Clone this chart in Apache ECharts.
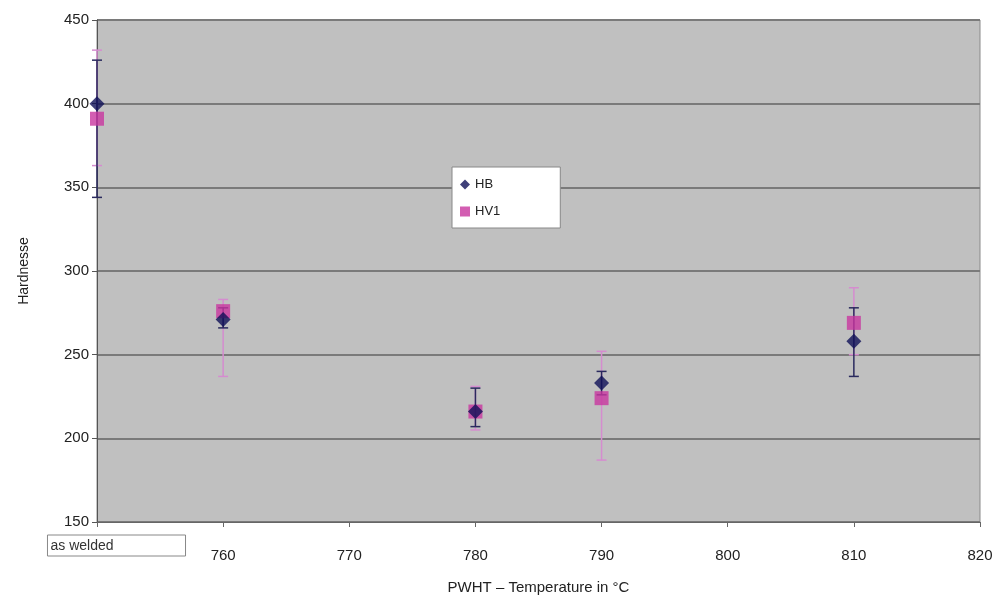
<!DOCTYPE html>
<html>
<head>
<meta charset="utf-8">
<script src="https://cdn.jsdelivr.net/npm/echarts@6/dist/echarts.min.js"></script>
<style>
  html, body { margin: 0; padding: 0; background: #fff; }
  #main { width: 1001px; height: 600px; }
</style>
</head>
<body>
<div id="main"></div>
<script>
var temps = [750, 760, 780, 790, 810];

// HB (Brinell)
var hbValues = [400, 271, 216, 233, 258];
var hbLow = [344, 266, 207, 226, 237];
var hbHigh = [426, 278, 230, 240, 278];

// HV1 (Vickers)
var hvValues = [391, 276, 216, 224, 269];
var hvLow = [363, 237, 205, 187, 250];
var hvHigh = [432, 283, 231, 252, 290];

var yTicks = [150, 200, 250, 300, 350, 400, 450];

var myChart = echarts.init(document.getElementById('main'));

function pairs(xs, ys) {
    return xs.map(function (x, i) { return [x, ys[i]]; });
}
function errData(xs, lo, hi) {
    return xs.map(function (x, i) { return [x, lo[i], hi[i]]; });
}
function errorBars(color, width) {
    return function (params, api) {
        var x = api.value(0);
        var lo = api.coord([x, api.value(1)]);
        var hi = api.coord([x, api.value(2)]);
        var cap = 5;
        var st = { stroke: color, lineWidth: width };
        return {
            type: 'group',
            children: [
                { type: 'line', shape: { x1: hi[0], y1: hi[1], x2: lo[0], y2: lo[1] }, style: st },
                { type: 'line', shape: { x1: hi[0] - cap, y1: hi[1], x2: hi[0] + cap, y2: hi[1] }, style: st },
                { type: 'line', shape: { x1: lo[0] - cap, y1: lo[1], x2: lo[0] + cap, y2: lo[1] }, style: st }
            ]
        };
    };
}

var fontFam = 'Liberation Sans, Arial, sans-serif';

var option = {
    animation: false,
    textStyle: { fontFamily: fontFam },
    grid: {
        left: 97, right: 21, top: 20, bottom: 75,
        show: true,
        backgroundColor: '#c0c0c0',
        borderColor: '#8a8a8a',
        borderWidth: 1
    },
    legend: {
        orient: 'vertical',
        left: 452, top: 167,
        backgroundColor: '#ffffff',
        borderColor: '#888888',
        borderWidth: 1,
        padding: [11, 60, 10, 8],
        itemGap: 14,
        itemWidth: 10, itemHeight: 10,
        textStyle: { fontSize: 13, color: '#222', fontFamily: fontFam },
        data: [
            { name: 'HB', icon: 'diamond' },
            { name: 'HV1', icon: 'rect' }
        ]
    },
    xAxis: {
        type: 'value',
        min: 750, max: 820, interval: 10,
        name: 'PWHT \u2013 Temperature in \u00b0C',
        nameLocation: 'middle',
        nameGap: 58,
        nameTextStyle: { fontSize: 15, color: '#222', fontFamily: fontFam },
        axisLine: { show: true, onZero: false, lineStyle: { color: '#666' } },
        axisTick: { show: true, length: 5, lineStyle: { color: '#666' } },
        splitLine: { show: false },
        axisLabel: {
            fontSize: 15, color: '#222', margin: 13,
            formatter: function (v) {
                return v === 750 ? '{sp| }{aw|as welded}' : '{n|' + v + '}';
            },
            rich: {
                sp: { width: 39 },
                n: { fontSize: 15, lineHeight: 42, color: '#222' },
                aw: {
                    padding: [4, 72, 3, 3],
                    borderColor: '#888', borderWidth: 1,
                    fontSize: 14, color: '#333'
                }
            }
        }
    },
    yAxis: {
        type: 'value',
        min: 150, max: 450, interval: 50,
        name: 'Hardnesse',
        nameLocation: 'middle',
        nameGap: 66,
        nameTextStyle: { fontSize: 14, color: '#222', fontFamily: fontFam },
        axisLine: { show: true, lineStyle: { color: '#555' } },
        axisTick: { show: true, length: 5, lineStyle: { color: '#555' } },
        axisLabel: {
            fontSize: 15, color: '#222', margin: 8,
            formatter: function (v) { return yTicks.indexOf(v) >= 0 ? String(v) : ''; }
        },
        splitLine: { show: true, lineStyle: { color: '#7a7a7a', width: 2 } }
    },
    series: [
        {
            name: 'HV1 err',
            type: 'custom',
            renderItem: errorBars('#d58ccf', 1.5),
            data: errData(temps, hvLow, hvHigh),
            z: 2
        },
        {
            name: 'HB err',
            type: 'custom',
            renderItem: errorBars('#2a2a5e', 1.5),
            data: errData(temps, hbLow, hbHigh),
            z: 3
        },
        {
            name: 'HV1',
            type: 'scatter',
            symbol: 'rect',
            symbolSize: 14,
            itemStyle: { color: '#c8369f' },
            data: pairs(temps, hvValues),
            z: 4
        },
        {
            name: 'HB',
            type: 'scatter',
            symbol: 'diamond',
            symbolSize: 15,
            itemStyle: { color: '#0f1058' },
            data: pairs(temps, hbValues),
            z: 5
        }
    ]
};

myChart.setOption(option);
</script>
</body>
</html>
